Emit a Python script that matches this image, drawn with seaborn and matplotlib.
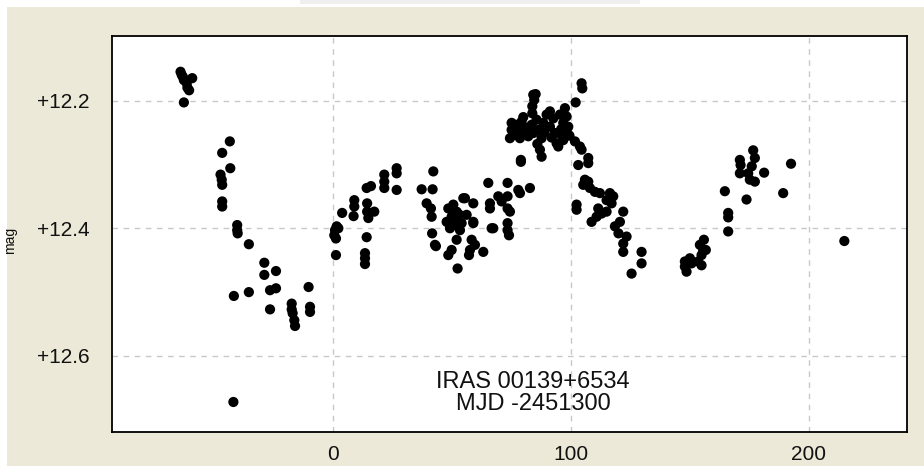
import matplotlib
matplotlib.use("Agg")
import matplotlib.pyplot as plt
from matplotlib.patches import Rectangle
import seaborn as sns
import pandas as pd

# light curve of IRAS 00139+6534, day = MJD - 2451300
days = [
    -63.9, -63.4, -62.9, -62.5, -59.0, -61.3, -61.0, -60.3, -62.5,
    -43.2, -46.4, -43.0, -47.1, -46.6, -46.4, -46.4, -46.4, -40.1, -40.1, -39.9,
    -35.2, -28.7, -28.7, -23.8, -41.5, -35.2, -26.3, -23.8, -26.3, -17.2, -17.2,
    -16.8, -16.1, -15.8, -10.1, -9.5, -9.5, -41.7,
    1.7, 1.0, 2.4, 0.7, 1.4, 1.4, 4.0, 9.1, 9.1, 8.8, 14.5, 14.5, 17.5, 15.0,
    14.3, 16.1, 14.3, 13.6, 13.6, 13.6, 21.7, 21.7, 21.7, 26.9, 26.9, 26.9,
    37.4, 42.3, 42.0, 39.5, 41.3, 41.6, 41.8, 43.4, 43.0,
    48.6, 50.7, 52.1, 50.0, 48.6, 52.8, 51.4, 54.2, 49.3, 53.5, 54.9, 59.1,
    59.1, 56.3, 52.1, 50.0, 48.6, 52.5, 58.4, 59.8, 57.7, 57.3, 63.3, 55.6,
    47.9, 59.1, 51.0, 53.0,
    65.4, 66.1, 66.1, 67.5, 66.8, 69.6, 71.0, 73.5, 73.5, 73.5, 73.5, 73.5,
    74.1, 74.5, 78.0, 79.1, 82.9, 78.7,
    104.6, 104.9, 102.1, 85.3, 84.7, 83.9, 83.9, 84.3,
    75.2, 75.2, 74.5, 76.9, 78.0, 79.4, 78.7, 81.5, 82.2, 83.6, 85.7, 86.4,
    87.8, 87.1, 87.8, 89.9, 91.3, 92.7, 91.3, 93.4, 94.1, 95.5, 96.9, 97.6,
    98.3, 96.2, 98.3, 96.9, 94.8, 99.0, 84.3, 76.6, 79.1,
    80.1, 88.5, 92.0, 96.0, 89.0, 86.0, 99.5, 77.5, 81.0,
    101.8, 103.9, 104.6, 107.4, 107.4, 103.2, 106.0, 105.3, 107.4, 108.1,
    110.2, 112.3, 116.5, 117.9, 115.1, 117.2, 111.6, 113.0, 110.9, 108.8,
    115.1, 102.5, 102.5, 122.1, 120.7, 118.6, 120.1, 123.5, 122.1, 122.1,
    129.8, 129.8, 125.6,
    148.0, 148.0, 148.7, 150.1, 150.8, 153.6, 155.0, 155.0, 154.3, 156.0,
    156.8, 155.7, 164.8, 166.2, 166.2, 166.2,
    171.1, 171.4, 171.1, 176.7, 177.4, 176.1, 174.6, 175.3, 177.4, 173.9,
    181.3, 189.3, 192.6, 215.0,
]
mags = [
    12.155, 12.160, 12.163, 12.168, 12.165, 12.173, 12.180, 12.184, 12.203,
    12.264, 12.282, 12.306, 12.316, 12.324, 12.332, 12.358, 12.366, 12.395, 12.403, 12.408,
    12.425, 12.454, 12.473, 12.467, 12.506, 12.500, 12.497, 12.494, 12.527, 12.518, 12.527,
    12.533, 12.544, 12.553, 12.492, 12.523, 12.531, 12.672,
    12.397, 12.403, 12.400, 12.411, 12.416, 12.442, 12.376, 12.356, 12.366, 12.381, 12.361, 12.374, 12.374, 12.384,
    12.337, 12.334, 12.414, 12.439, 12.447, 12.456, 12.316, 12.327, 12.337, 12.306, 12.314, 12.340,
    12.339, 12.311, 12.339, 12.361, 12.369, 12.382, 12.408, 12.428, 12.426,
    12.369, 12.363, 12.374, 12.382, 12.390, 12.387, 12.395, 12.392, 12.400, 12.403, 12.353, 12.361,
    12.390, 12.379, 12.418, 12.434, 12.442, 12.463, 12.418, 12.426, 12.434, 12.442, 12.437, 12.353,
    12.390, 12.392, 12.386, 12.378,
    12.329, 12.361, 12.369, 12.400, 12.400, 12.350, 12.358, 12.329, 12.350, 12.369, 12.392, 12.403,
    12.411, 12.374, 12.340, 12.296, 12.337, 12.345,
    12.173, 12.181, 12.203, 12.190, 12.199, 12.209, 12.220, 12.191,
    12.235, 12.246, 12.259, 12.238, 12.249, 12.233, 12.259, 12.243, 12.256, 12.238, 12.230, 12.246,
    12.259, 12.277, 12.288, 12.222, 12.217, 12.228, 12.241, 12.251, 12.267, 12.222, 12.235, 12.212,
    12.225, 12.254, 12.249, 12.262, 12.272, 12.241, 12.251, 12.254, 12.293,
    12.226, 12.235, 12.258, 12.245, 12.250, 12.268, 12.255, 12.242, 12.252,
    12.264, 12.272, 12.277, 12.290, 12.298, 12.301, 12.324, 12.332, 12.327, 12.337,
    12.343, 12.345, 12.345, 12.350, 12.356, 12.361, 12.369, 12.377, 12.382, 12.390,
    12.374, 12.363, 12.371, 12.374, 12.390, 12.397, 12.408, 12.413, 12.424, 12.437,
    12.437, 12.455, 12.471,
    12.452, 12.460, 12.468, 12.447, 12.455, 12.452, 12.458, 12.442, 12.426, 12.418,
    12.434, 12.434, 12.342, 12.376, 12.383, 12.405,
    12.293, 12.301, 12.314, 12.278, 12.290, 12.303, 12.314, 12.324, 12.327, 12.355,
    12.313, 12.345, 12.299, 12.420,
]
x_ticks = [0, 100, 200]
x_labels = ["0", "100", "200"]
y_ticks = [12.2, 12.4, 12.6]
y_labels = ["+12.2", "+12.4", "+12.6"]
label_lines = ["IRAS 00139+6534", "MJD -2451300"]

df = pd.DataFrame({"day": days, "mag": mags})

sns.set_theme(style="white")
plt.rcParams["font.family"] = ["Liberation Sans", "DejaVu Sans"]

fig = plt.figure(figsize=(9.24, 4.66), dpi=100)
fig.patch.set_facecolor("white")
# windows-style beige panel behind the plot
fig.add_artist(Rectangle((7 / 924, 0), 1, 1 - 7 / 466, transform=fig.transFigure,
                         facecolor="#ECE9D8", edgecolor="none", zorder=0))
fig.add_artist(Rectangle((300 / 924, 1 - 4 / 466), 340 / 924, 4 / 466, transform=fig.transFigure,
                         facecolor="#efefef", edgecolor="none", zorder=0))

ax = fig.add_axes([112 / 924, 1 - 432 / 466, 794.7 / 924, 396 / 466])
ax.set_facecolor("white")

sns.scatterplot(data=df, x="day", y="mag", ax=ax, color="black", s=54,
                edgecolor="none", linewidth=0, zorder=3)

ax.set_xlim(-92.7, 241.2)
ax.set_ylim(12.719, 12.099)
ax.set_xticks(x_ticks)
ax.set_xticklabels(x_labels)
ax.set_yticks(y_ticks)
ax.set_yticklabels(y_labels)
ax.tick_params(axis="both", length=0, labelsize=15, colors="#111111")
ax.tick_params(axis="x", pad=9)
ax.tick_params(axis="y", pad=16)

ax.grid(True, color="#c8c8c8", linestyle=(0, (4, 4)), linewidth=1)
ax.set_axisbelow(True)
for sp in ax.spines.values():
    sp.set_color("black")
    sp.set_linewidth(1.3)

ax.set_xlabel("")
ax.set_ylabel("mag", fontsize=10, color="#111111")
ax.yaxis.set_label_coords(-0.1195, 0.485)

ax.text(84.2, 12.658, "\n".join(label_lines), ha="center", va="center",
        fontsize=17, linespacing=0.95, color="#111111", zorder=4)

fig.savefig("out.png", dpi=100, facecolor=fig.get_facecolor())
